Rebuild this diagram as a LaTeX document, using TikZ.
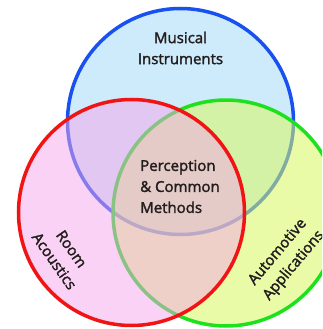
\documentclass[tikz,border=0pt]{standalone}
\usepackage{fontspec}
\setmainfont{Open Sans}
\newfontfamily\lblfont[FakeBold=2]{Open Sans}
\begin{document}
\begin{tikzpicture}[x=1pt,y=1pt]
\definecolor{bfill}{RGB}{205,235,250}
\definecolor{bline}{RGB}{25,80,240}
\definecolor{gfill}{RGB}{217,248,97}
\definecolor{gline}{RGB}{30,225,30}
\definecolor{rfill}{RGB}{245,165,235}
\definecolor{rline}{RGB}{240,20,20}
\definecolor{txt}{RGB}{35,30,30}
\tikzset{ring/.style={line width=3.5pt},
  lbl/.style={font=\lblfont\fontsize{15}{21}\selectfont, text=txt, align=center, inner sep=0pt}}
\useasboundingbox (0,0) rectangle (322,329);
\clip (0,0) rectangle (322,329);
\node[circle, minimum size=226pt, inner sep=0pt, fill=bfill, draw=bline, ring] (blue) at (180.5,207.5) {};
\node[circle, minimum size=226pt, inner sep=0pt, fill=gfill, fill opacity=0.55, draw=gline, draw opacity=1, ring] (green) at (226,116) {};
\node[circle, minimum size=226pt, inner sep=0pt, fill=rfill, fill opacity=0.5, draw=rline, draw opacity=1, ring] (red) at (131.5,116.5) {};
\node[lbl] (mus) at (180.5,281) {Musical\\Instruments};
\node[lbl, align=left] (per) at (180,142.5) {Perception\\\& Common\\Methods};
\node[lbl, rotate=-55] (room) at (63,74) {Room\\Acoustics};
\node[lbl, rotate=50] (auto) at (286,70) {Automotive\\Applications};
\end{tikzpicture}
\end{document}
